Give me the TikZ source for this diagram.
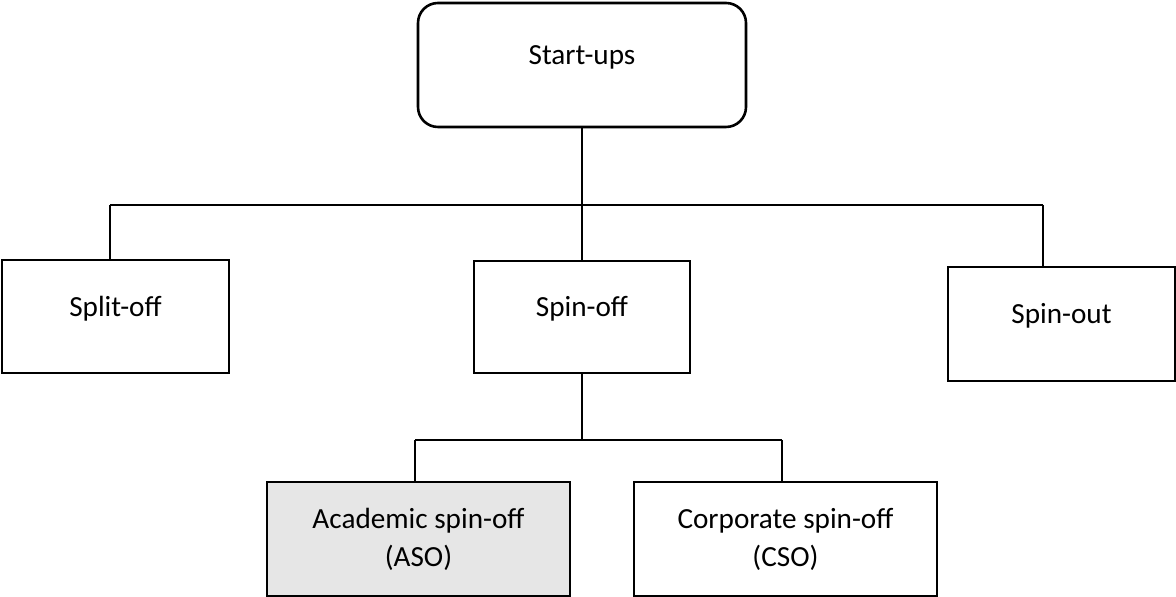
\documentclass[tikz,border=0pt]{standalone}
\usepackage{fontspec}
\setmainfont{Carlito}
\usetikzlibrary{calc}
\definecolor{asogray}{RGB}{230,230,230}

\begin{document}
\begin{tikzpicture}[x=0.5pt, y=-0.5pt,
		box/.style={draw, line width=1.3pt, inner sep=0pt, align=center, font=\fontsize{14.6}{19}\selectfont},
		oneline/.style={text height=6pt, text depth=6pt},
		link/.style={draw, line width=0.6pt}]
		\useasboundingbox (0,0) rectangle (1176,597);
		% top level
		\node[box, oneline, rounded corners=10pt, minimum width=164pt, minimum height=62pt] (start) at (582,65) {Start-ups};
		% middle level
		\node[box, oneline, minimum width=113.5pt, minimum height=56.5pt] (split) at (115.5,316.5) {Split-off};
		\node[box, oneline, minimum width=108pt, minimum height=56pt] (spinoff) at (582,317) {Spin-off};
		\node[box, oneline, minimum width=113.5pt, minimum height=57pt] (spinout) at (1061.5,324) {Spin-out};
		% bottom level
		\node[box, fill=asogray, minimum width=151.5pt, minimum height=57pt] (aso) at (418.5,539) {Academic spin-off\\(ASO)};
		\node[box, minimum width=151.5pt, minimum height=57pt] (cso) at (785.5,539) {Corporate spin-off\\(CSO)};
		% connectors
		\coordinate (topbar) at (582,205);
		\coordinate (dropsplit) at (110,205);
		\coordinate (dropspinout) at (1043,205);
		\coordinate (lowbar) at (582,440);
		\coordinate (dropaso) at (415,440);
		\coordinate (dropcso) at (782,440);
		\draw[link] (start.south) -- (topbar);
		\draw[link] (dropsplit) -- (dropspinout);
		\draw[link] (dropsplit) -- (dropsplit |- split.north);
		\draw[link] (topbar) -- (spinoff.north);
		\draw[link] (dropspinout) -- (dropspinout |- spinout.north);
		\draw[link] (spinoff.south) -- (lowbar);
		\draw[link] (dropaso) -- (dropcso);
		\draw[link] (dropaso) -- (dropaso |- aso.north);
		\draw[link] (dropcso) -- (dropcso |- cso.north);
	\end{tikzpicture}
\end{document}
